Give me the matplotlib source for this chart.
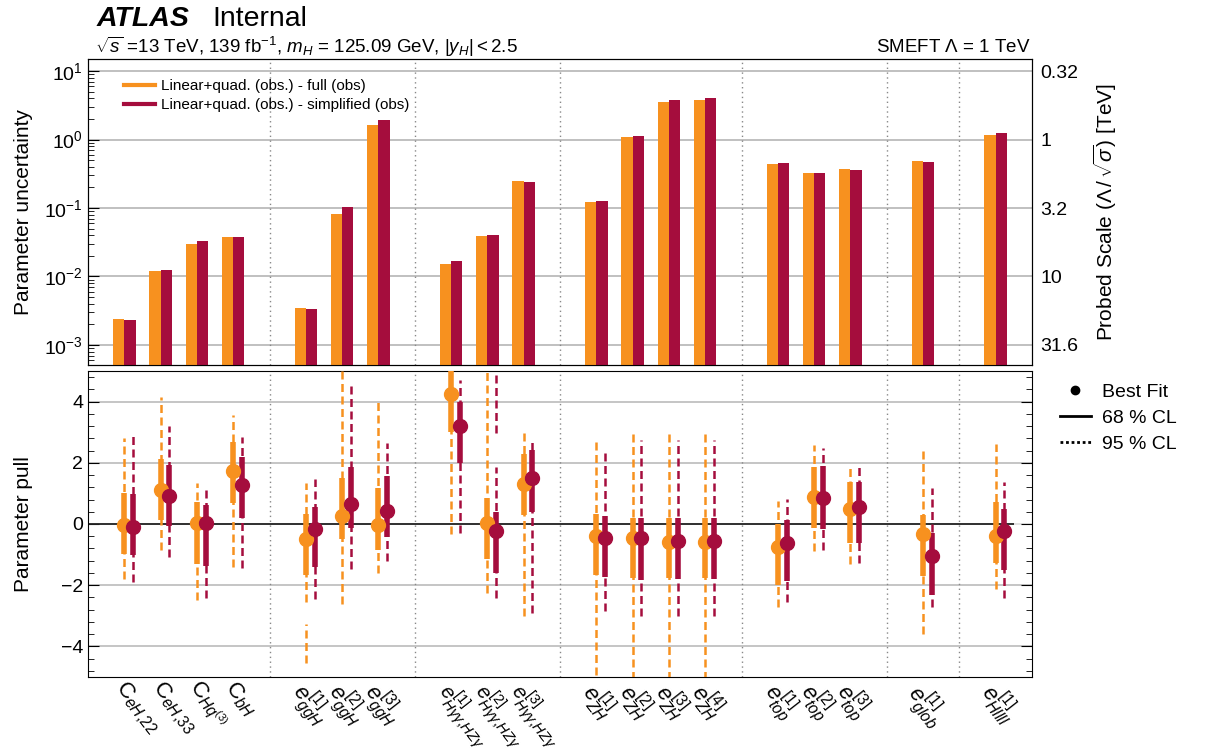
import numpy as np
import matplotlib
matplotlib.use("Agg")
import matplotlib.pyplot as plt
from matplotlib.lines import Line2D
from matplotlib.ticker import MultipleLocator, LogLocator, NullFormatter, FixedLocator

plt.rcParams['font.family'] = ['Liberation Sans', 'DejaVu Sans']
plt.rcParams['mathtext.fontset'] = 'custom'
plt.rcParams['mathtext.rm'] = 'Liberation Sans'
plt.rcParams['mathtext.it'] = 'Liberation Sans:italic'
plt.rcParams['mathtext.bf'] = 'Liberation Sans:bold'

ORANGE = '#f7911f'
RED = '#a50d3d'

labels = [r'$\mathrm{C}_{eH{,}22}$', r'$\mathrm{C}_{eH{,}33}$', r'$\mathrm{C}_{Hq^{(3)}}$',
          r'$\mathrm{C}_{bH}$',
          r'$e^{[1]}_{ggH}$', r'$e^{[2]}_{ggH}$', r'$e^{[3]}_{ggH}$',
          r'$e^{[1]}_{H\gamma\gamma{,}HZ\gamma}$', r'$e^{[2]}_{H\gamma\gamma{,}HZ\gamma}$',
          r'$e^{[3]}_{H\gamma\gamma{,}HZ\gamma}$',
          r'$e^{[1]}_{ZH}$', r'$e^{[2]}_{ZH}$', r'$e^{[3]}_{ZH}$', r'$e^{[4]}_{ZH}$',
          r'$e^{[1]}_{top}$', r'$e^{[2]}_{top}$', r'$e^{[3]}_{top}$',
          r'$e^{[1]}_{glob}$', r'$e^{[1]}_{Hllll}$']
group_sizes = [4, 3, 3, 4, 3, 1, 1]

# parameter uncertainty (top panel)
unc_full = [2.4e-3, 0.012, 0.030, 0.038, 3.4e-3, 0.081, 1.64, 0.015, 0.039, 0.246,
            0.123, 1.08, 3.56, 3.80, 0.44, 0.32, 0.37, 0.49, 1.17]
unc_simp = [2.3e-3, 0.0126, 0.033, 0.038, 3.3e-3, 0.104, 1.96, 0.017, 0.040, 0.238,
            0.126, 1.13, 3.72, 3.98, 0.45, 0.32, 0.36, 0.47, 1.26]

# parameter pulls (bottom panel)
full_best = [-0.03, 1.12, 0.04, 1.74, -0.50, 0.27, -0.04, 4.25, 0.04, 1.30,
             -0.38, -0.47, -0.58, -0.58, -0.74, 0.87, 0.50, -0.33, -0.38]
full_68_lo = [-0.97, 0.13, -1.31, 0.69, -1.67, -0.48, -0.85, 3.0, -1.14, 0.28,
              -1.68, -1.78, -1.78, -1.78, -1.99, -0.14, -0.62, -1.70, -1.26]
full_68_hi = [1.0, 2.12, 0.71, 2.67, 0.33, 1.51, 1.18, 5.5, 0.86, 2.29,
              0.33, 0.21, 0.21, 0.21, 0.0, 1.85, 1.38, 0.29, 0.71]
full_95_lo = [-1.81, -0.85, -2.48, -1.39, -4.55, -2.63, -1.61, -0.33, -2.27, -3.0,
              -4.95, -5.5, -5.5, -5.5, -2.72, -0.88, -1.32, -3.61, -2.14]
full_95_hi = [2.8, 4.14, 1.33, 3.56, 1.33, 5.5, 4.12, 5.5, 5.5, 2.96,
              2.69, 3.02, 3.02, 3.02, 0.75, 2.58, 1.82, 2.40, 2.61]
full_95_gaps = {4: (-3.27, -2.54)}

simp_best = [-0.10, 0.92, 0.04, 1.26, -0.15, 0.65, 0.44, 3.2, -0.23, 1.49,
             -0.47, -0.45, -0.56, -0.54, -0.61, 0.85, 0.56, -1.03, -0.22]
simp_68_lo = [-1.02, -0.05, -1.37, 0.21, -1.42, -0.14, -0.44, 2.0, -1.59, 0.38,
              -1.72, -1.83, -1.81, -1.81, -1.86, -0.17, -0.62, -2.32, -1.50]
simp_68_hi = [0.97, 1.93, 0.63, 2.19, 0.57, 1.85, 1.58, 4.0, 0.40, 2.42,
              0.27, 0.21, 0.21, 0.21, 0.13, 1.90, 1.38, -0.31, 0.49]
simp_95_lo = [-1.9, -1.07, -2.42, -1.44, -2.44, -1.48, -1.2, -0.3, -2.41, -2.92,
              -2.83, -3.0, -3.0, -3.0, -2.54, -0.85, -1.29, -2.72, -2.43]
simp_95_hi = [2.9, 3.2, 1.11, 2.83, 1.46, 4.51, 2.66, 4.7, 5.5, 2.82,
              2.42, 2.75, 2.75, 2.75, 0.81, 2.49, 1.85, 1.17, 1.38]
simp_95_gaps = {8: (1.87, 2.96)}

# x positions: one empty slot between groups
xpos, seps = [], []
x = 1
for n in group_sizes:
    for _ in range(n):
        xpos.append(x)
        x += 1
    seps.append(x)
    x += 1
seps = seps[:-1]
xpos = np.array(xpos, dtype=float)
xmax = xpos[-1] + 1

W, H = 1210, 756
fig = plt.figure(figsize=(W / 100, H / 100), dpi=100)
ax = fig.add_axes([88 / W, 1 - 365 / H, 944 / W, 306 / H])
axb = fig.add_axes([88 / W, 1 - 677 / H, 944 / W, 306 / H])

# ---- top panel
bw = 0.31
ax.bar(xpos - bw / 2, unc_full, width=bw, bottom=1e-5, color=ORANGE, zorder=3)
ax.bar(xpos + bw / 2, unc_simp, width=bw, bottom=1e-5, color=RED, zorder=3)
ax.set_yscale('log')
ax.set_ylim(5.1e-4, 15)
ax.set_xlim(0, xmax)
for yv in [10, 1, 0.1, 0.01, 0.001]:
    ax.axhline(yv, color='#bbbbbb', lw=1.3, zorder=1)
for s in seps:
    ax.axvline(s, color='#888888', lw=1.0, ls=(0, (1, 2.5)), zorder=1)
ax.set_xticks([])
ax.yaxis.set_major_locator(FixedLocator([1e-3, 1e-2, 1e-1, 1, 10]))
ax.yaxis.set_minor_locator(LogLocator(base=10, subs=np.arange(2, 10)))
ax.yaxis.set_minor_formatter(NullFormatter())
ax.tick_params(axis='y', which='both', direction='in', labelsize=14)
ax.tick_params(axis='y', which='major', length=8)
ax.tick_params(axis='y', which='minor', length=4)
ax.set_ylabel('Parameter uncertainty', fontsize=15)
ax.yaxis.set_label_coords(-0.058, 0.5)
leg_handles = [Line2D([], [], color=ORANGE, lw=3), Line2D([], [], color=RED, lw=3)]
ax.legend(leg_handles, ['Linear+quad. (obs.) - full (obs)',
                        'Linear+quad. (obs.) - simplified (obs)'],
          loc='upper left', bbox_to_anchor=(0.024, 0.98), frameon=False,
          fontsize=11, handlelength=2.0, handletextpad=0.4, labelspacing=0.35)

ax2 = ax.twinx()
ax2.set_yscale('log')
ax2.set_ylim(ax.get_ylim())
ax2.yaxis.set_major_locator(FixedLocator([10, 1, 0.1, 0.01, 0.001]))
ax2.set_yticklabels(['0.32', '1', '3.2', '10', '31.6'])
ax2.yaxis.set_minor_locator(FixedLocator([]))
ax2.tick_params(axis='y', direction='in', length=0, labelsize=14, pad=6)
ax2.set_ylabel(r'Probed Scale $(\Lambda\,/\,\sqrt{\sigma})$ [TeV]', fontsize=15,
               labelpad=10)

# ---- bottom panel
dx = 0.24
axb.set_xlim(0, xmax)
axb.set_ylim(-5, 5)
for yv in [-4, -2, 2, 4]:
    axb.axhline(yv, color='#bbbbbb', lw=1.2, zorder=1)
axb.axhline(0, color='#dddddd', lw=1.2, zorder=1)
axb.hlines(0, 0, xpos[-1] + 0.5, color='#222222', lw=1.3, zorder=2)
for s in seps:
    axb.axvline(s, color='#888888', lw=1.0, ls=(0, (1, 2.5)), zorder=1)


def draw_pulls(xs, best, lo68, hi68, lo95, hi95, gaps, color):
    dash = (0, (3.2, 1.8))
    for i, xv in enumerate(xs):
        if i in gaps:
            g0, g1 = gaps[i]
            axb.vlines(xv, lo95[i], g0, color=color, lw=1.8, ls=dash, zorder=3)
            axb.vlines(xv, g1, hi95[i], color=color, lw=1.8, ls=dash, zorder=3)
        else:
            axb.vlines(xv, lo95[i], hi95[i], color=color, lw=1.8, ls=dash, zorder=3)
    axb.vlines(xs, lo68, hi68, color=color, lw=4, zorder=4)
    axb.plot(xs, best, 'o', color=color, ms=10, zorder=5)


draw_pulls(xpos, full_best, full_68_lo, full_68_hi, full_95_lo, full_95_hi,
           full_95_gaps, ORANGE)
draw_pulls(xpos + dx, simp_best, simp_68_lo, simp_68_hi, simp_95_lo, simp_95_hi,
           simp_95_gaps, RED)

axb.yaxis.set_major_locator(MultipleLocator(2))
axb.yaxis.set_minor_locator(MultipleLocator(0.4))
axb.tick_params(axis='y', which='both', direction='in', right=True, labelsize=14)
axb.tick_params(axis='y', which='major', length=8)
axb.tick_params(axis='y', which='minor', length=4)
axb.set_ylabel('Parameter pull', fontsize=15)
axb.yaxis.set_label_coords(-0.058, 0.5)
axb.set_xticks(xpos + 0.12)
axb.set_xticklabels(labels, rotation=-52, ha='left', va='top',
                    rotation_mode='anchor', fontsize=16)
for t in axb.get_xticklabels():
    if 'gamma' in t.get_text():
        t.set_fontsize(15)
axb.tick_params(axis='x', length=0, pad=0)

fig.legend([Line2D([], [], marker='o', color='k', ls='none', ms=6),
            Line2D([], [], color='k', lw=2),
            Line2D([], [], color='k', lw=2, ls=(0, (1, 1)))],
           ['Best Fit', '68 % CL', '95 % CL'],
           loc='upper left', bbox_to_anchor=(1042 / W, 1 - 366 / H),
           frameon=False, fontsize=14, handlelength=1.6, labelspacing=0.42,
           handletextpad=0.6)

# ---- header text
fig.text(97 / W, 1 - 19 / H, 'ATLAS', fontsize=20.5, fontweight='bold',
         fontstyle='italic', va='center', ha='left')
fig.text(212 / W, 1 - 19 / H, 'Internal', fontsize=20.5, va='center', ha='left')
fig.text(95 / W, 1 - 47 / H,
         r'$\sqrt{s}$ =13 TeV, 139 fb$^{-1}$, $m_H$ = 125.09 GeV, $|y_H| < 2.5$',
         fontsize=13.5, va='center', ha='left')
fig.text(1031 / W, 1 - 47 / H, r'SMEFT $\Lambda$ = 1 TeV', fontsize=13.5,
         va='center', ha='right')

fig.savefig('out.png', dpi=100)
